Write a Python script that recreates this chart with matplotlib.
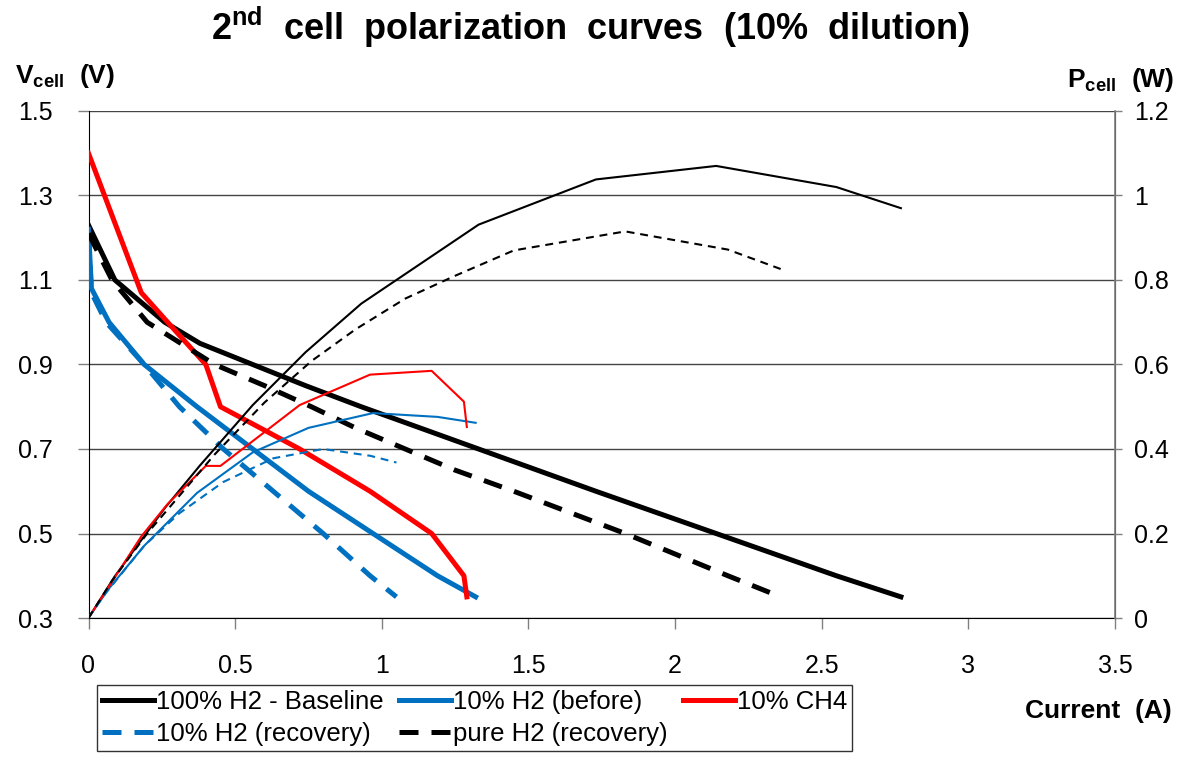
import numpy as np
import matplotlib
matplotlib.use('Agg')
import matplotlib.pyplot as plt
from matplotlib.lines import Line2D


plt.rcParams['font.family'] = ['Liberation Sans', 'DejaVu Sans']
plt.rcParams['mathtext.fontset'] = 'custom'
plt.rcParams['mathtext.rm'] = 'Liberation Sans'
plt.rcParams['mathtext.bf'] = 'Liberation Sans:bold'

BLUE = '#0070C0'
RED = '#FF0000'

# 100% H2 - baseline
base_i = [0, 0.09, 0.26, 0.38, 0.56, 0.74, 0.93, 1.33, 1.73, 2.14, 2.55, 2.77]
base_v = [1.23, 1.10, 1.00, 0.95, 0.90, 0.85, 0.80, 0.70, 0.60, 0.50, 0.40, 0.35]
base_p = [0, 0.099, 0.26, 0.361, 0.504, 0.629, 0.744, 0.931, 1.038, 1.07, 1.02, 0.97]

# 10% H2 (before)
before_i = [0, 0.01, 0.07, 0.19, 0.37, 0.56, 0.75, 0.97, 1.19, 1.32]
before_v = [1.22, 1.08, 1.00, 0.90, 0.80, 0.70, 0.60, 0.50, 0.40, 0.35]
before_p = [0, 0.011, 0.07, 0.171, 0.296, 0.392, 0.45, 0.485, 0.476, 0.462]

# 10% CH4
ch4_i = [0, 0.18, 0.27, 0.40, 0.45, 0.72, 0.96, 1.17, 1.28, 1.29]
ch4_v = [1.40, 1.07, 1.00, 0.90, 0.80, 0.70, 0.60, 0.50, 0.40, 0.35]
ch4_p = [0, 0.193, 0.27, 0.36, 0.36, 0.504, 0.576, 0.585, 0.512, 0.452]

# 10% H2 (recovery)
rec10_i = [0, 0.01, 0.06, 0.19, 0.31, 0.46, 0.63, 0.80, 0.96, 1.05]
rec10_v = [1.21, 1.07, 1.00, 0.90, 0.80, 0.70, 0.60, 0.50, 0.40, 0.35]
rec10_p = [0, 0.011, 0.06, 0.171, 0.248, 0.322, 0.378, 0.40, 0.384, 0.368]

# pure H2 (recovery)
pure_i = [0, 0.08, 0.20, 0.43, 0.60, 0.76, 0.91, 1.08, 1.25, 1.45, 1.83, 2.18, 2.36]
pure_v = [1.21, 1.10, 1.00, 0.90, 0.85, 0.80, 0.75, 0.70, 0.65, 0.60, 0.50, 0.40, 0.35]
pure_p = [0, 0.088, 0.20, 0.387, 0.51, 0.608, 0.683, 0.756, 0.81, 0.87, 0.915, 0.872, 0.826]

x_ticks = [0, 0.5, 1, 1.5, 2, 2.5, 3, 3.5]
v_ticks = [0.3, 0.5, 0.7, 0.9, 1.1, 1.3, 1.5]
p_ticks = [0, 0.2, 0.4, 0.6, 0.8, 1, 1.2]

THICK = 3.6
THIN = 1.5
thick_dash = (0, (3.8, 2.6))
thin_dash = (0, (3.8, 2.8))

W, H = 1181, 758
fig = plt.figure(figsize=(W / 100, H / 100), dpi=100)
ax = fig.add_axes([88.5 / W, 1 - 618 / H, (1115 - 88.5) / W, (618 - 111) / H])
ax2 = ax.twinx()

# voltage curves (left axis)
ax.plot(base_i, base_v, color='black', lw=THICK, zorder=3)
ax.plot(before_i, before_v, color=BLUE, lw=THICK, zorder=3)
ax.plot(ch4_i, ch4_v, color=RED, lw=THICK, zorder=3)
ax.plot(rec10_i, rec10_v, color=BLUE, lw=THICK, ls=thick_dash, zorder=3)
ax.plot(pure_i, pure_v, color='black', lw=THICK, ls=thick_dash, zorder=3)

# power curves (right axis)
ax2.plot(base_i, base_p, color='black', lw=THIN)
ax2.plot(before_i, before_p, color=BLUE, lw=THIN)
ax2.plot(ch4_i, ch4_p, color=RED, lw=THIN)
ax2.plot(rec10_i, rec10_p, color=BLUE, lw=THIN, ls=thin_dash)
ax2.plot(pure_i, pure_p, color='black', lw=THIN, ls=thin_dash)

ax.set_xlim(0, 3.5)
ax.set_ylim(0.3, 1.5)
ax2.set_ylim(0, 1.2)
ax.set_xticks(x_ticks)
ax.set_xticklabels(['0', '0.5', '1', '1.5', '2', '2.5', '3', '3.5'])
ax.set_yticks(v_ticks)
ax.set_yticklabels([f'{v:.1f}' for v in v_ticks])
ax2.set_yticks(p_ticks)
ax2.set_yticklabels(['0', '0.2', '0.4', '0.6', '0.8', '1', '1.2'])

ax.grid(axis='y', color='#444444', lw=1.0)
ax.set_axisbelow(True)

for a in (ax, ax2):
    a.spines['top'].set_visible(False)
ax.spines['left'].set_color('black')
ax.spines['bottom'].set_color('black')
ax2.spines['left'].set_visible(False)
ax2.spines['bottom'].set_visible(False)
ax2.spines['right'].set_color('#808080')
ax2.spines['right'].set_linewidth(1.2)

ax.tick_params(axis='y', direction='out', length=8, width=1, color='#808080',
               labelsize=18, pad=18)
ax.tick_params(axis='x', direction='out', length=8, width=1, color='#808080',
               labelsize=18, pad=18)
ax2.tick_params(axis='y', direction='out', length=5, width=1, color='#808080',
                labelsize=18, pad=9)

fig.text(0.5, 1 - 40 / H,
         r'2$^{\mathbf{nd}}$  cell  polarization  curves  (10%  dilution)',
         ha='center', va='baseline', fontsize=26, fontweight='bold')
fig.text(15 / W, 1 - 83 / H, r'V$_{\mathbf{cell}}$  (V)', ha='left', va='baseline',
         fontsize=19, fontweight='bold')
fig.text(1174 / W, 1 - 87 / H, r'P$_{\mathbf{cell}}$  (W)', ha='right', va='baseline',
         fontsize=19, fontweight='bold')
fig.text(1172 / W, 1 - 718 / H, 'Current  (A)', ha='right', va='baseline',
         fontsize=19, fontweight='bold')

handles = [
    Line2D([], [], color='black', lw=THICK),
    Line2D([], [], color=BLUE, lw=THICK, ls=thick_dash),
    Line2D([], [], color=BLUE, lw=THICK),
    Line2D([], [], color='black', lw=THICK, ls=thick_dash),
    Line2D([], [], color=RED, lw=THICK),
]
labels = ['100% H2 - Baseline', '10% H2 (recovery)', '10% H2 (before)',
          'pure H2 (recovery)', '10% CH4']
leg = fig.legend(handles, labels, loc='upper left', ncol=3,
                 bbox_to_anchor=(97 / W, 1 - 685 / H), fontsize=18.5,
                 frameon=True, fancybox=False, edgecolor='black',
                 handlelength=2.0, handletextpad=0.1, columnspacing=0.6,
                 labelspacing=0.3, borderpad=0.2, borderaxespad=0)
leg.get_frame().set_linewidth(1.0)

fig.savefig('out.png', dpi=100)
